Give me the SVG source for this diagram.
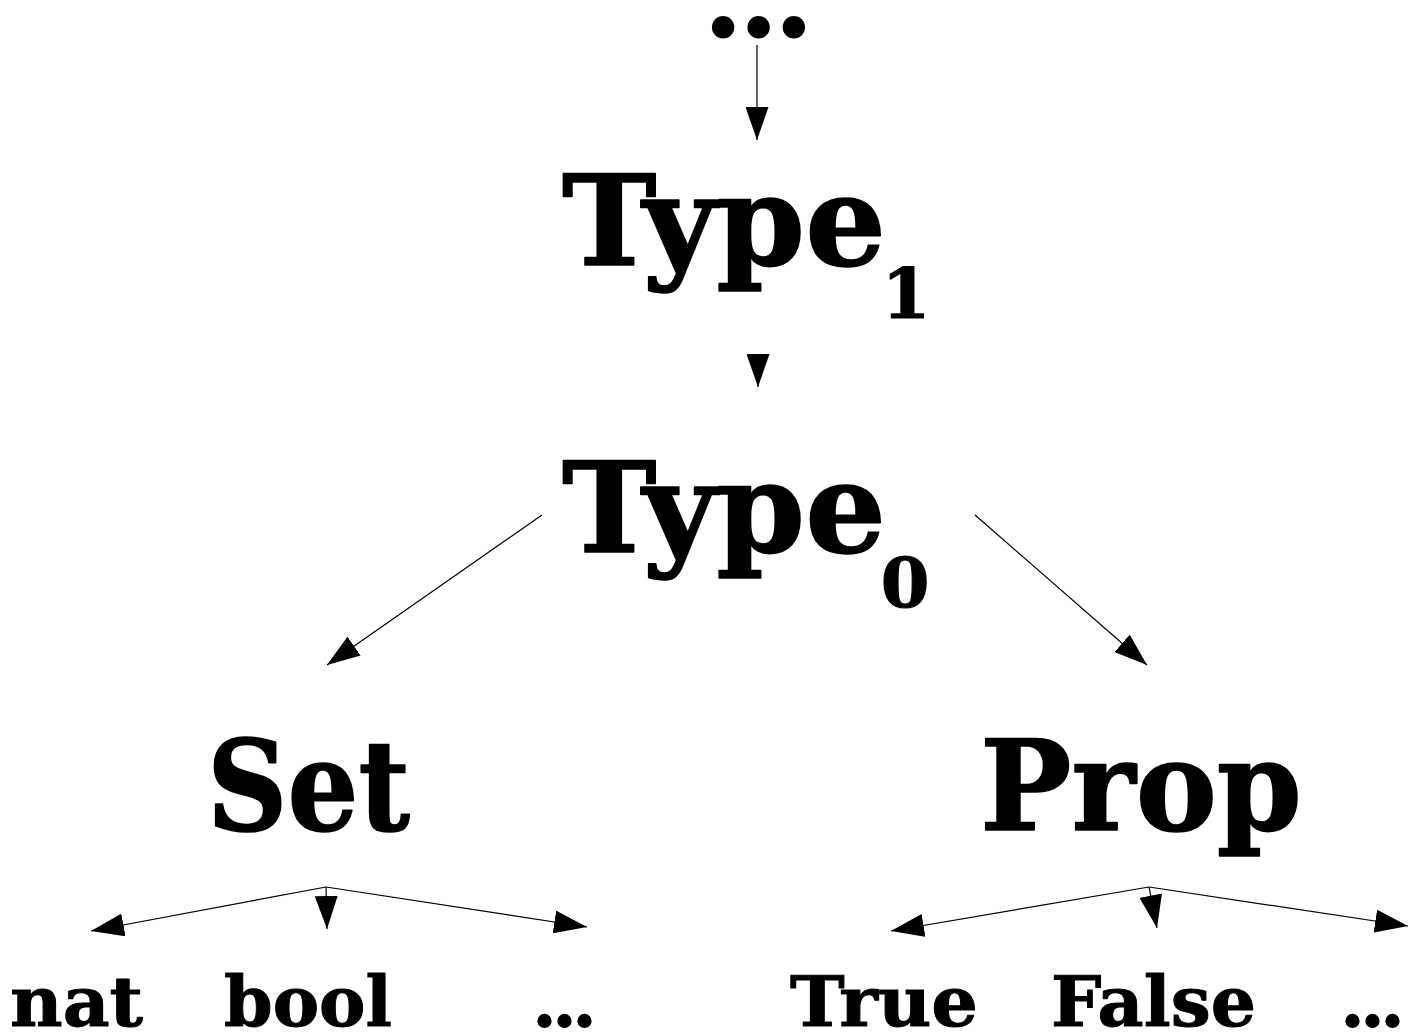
<svg xmlns="http://www.w3.org/2000/svg" width="1419" height="1035" viewBox="0 0 1419 1035">
  <style>
    .lbl { font-family: "DejaVu Serif", "Liberation Serif", serif; font-weight: bold; fill: #000; stroke: #000; stroke-linejoin: round; }
    .big { font-size: 126px; stroke-width: 1.6; }
    .sub { font-size: 70px; stroke-width: 1.2; }
    .small { font-size: 70px; stroke-width: 1; }
    .dots { font-size: 66px; stroke-width: 2; letter-spacing: -3px; }
    .dots-top { font-size: 104px; stroke-width: 3; letter-spacing: -0.8px; }
    .edge { stroke: #000; stroke-width: 1.2; fill: none; marker-end: url(#arrow); }
  </style>
  <defs>
    <marker id="arrow" markerUnits="userSpaceOnUse" viewBox="0 0 33 23" refX="33" refY="11.5" markerWidth="33" markerHeight="23" orient="auto">
      <path d="M0,0 L33,11.5 L0,23 z" fill="#000"/>
    </marker>
  </defs>
  <rect width="1419" height="1035" fill="#fff"/>

  <!-- connectors -->
  <g id="connectors">
    <line class="edge" x1="757" y1="45" x2="757" y2="140"/>
    <line class="edge" x1="758" y1="360" x2="758" y2="387"/>
    <line class="edge" x1="542" y1="515" x2="327" y2="665"/>
    <line class="edge" x1="975" y1="515" x2="1147" y2="665"/>
    <line class="edge" x1="326" y1="887" x2="91" y2="931"/>
    <line class="edge" x1="326" y1="887" x2="327" y2="929"/>
    <line class="edge" x1="326" y1="887" x2="587" y2="927"/>
    <line class="edge" x1="1149" y1="887" x2="891" y2="931"/>
    <line class="edge" x1="1149" y1="887" x2="1157" y2="928"/>
    <line class="edge" x1="1149" y1="887" x2="1408" y2="926"/>
  </g>

  <!-- nodes -->
  <g id="node-top">
    <text class="lbl dots-top" x="705" y="35.5">...</text>
  </g>
  <g id="node-type1">
    <text class="lbl big" x="562" y="265" textLength="324" lengthAdjust="spacingAndGlyphs">Type</text>
    <text class="lbl sub" x="906" y="318" text-anchor="middle">1</text>
  </g>
  <g id="node-type0">
    <text class="lbl big" x="562" y="552" textLength="324" lengthAdjust="spacingAndGlyphs">Type</text>
    <text class="lbl sub" x="905" y="607" text-anchor="middle">0</text>
  </g>
  <g id="node-set">
    <text class="lbl big" x="207" y="830" textLength="203" lengthAdjust="spacingAndGlyphs">Set</text>
  </g>
  <g id="node-prop">
    <text class="lbl big" x="980" y="830" textLength="322" lengthAdjust="spacingAndGlyphs">Prop</text>
  </g>
  <g id="node-nat">
    <text class="lbl small" x="10" y="1026" textLength="133" lengthAdjust="spacingAndGlyphs">nat</text>
  </g>
  <g id="node-bool">
    <text class="lbl small" x="224" y="1026" textLength="168" lengthAdjust="spacingAndGlyphs">bool</text>
  </g>
  <g id="node-set-more">
    <text class="lbl dots" x="533" y="1026">...</text>
  </g>
  <g id="node-true">
    <text class="lbl small" x="790" y="1026" textLength="188" lengthAdjust="spacingAndGlyphs">True</text>
  </g>
  <g id="node-false">
    <text class="lbl small" x="1051" y="1026" textLength="205" lengthAdjust="spacingAndGlyphs">False</text>
  </g>
  <g id="node-prop-more">
    <text class="lbl dots" x="1341" y="1026">...</text>
  </g>
</svg>
